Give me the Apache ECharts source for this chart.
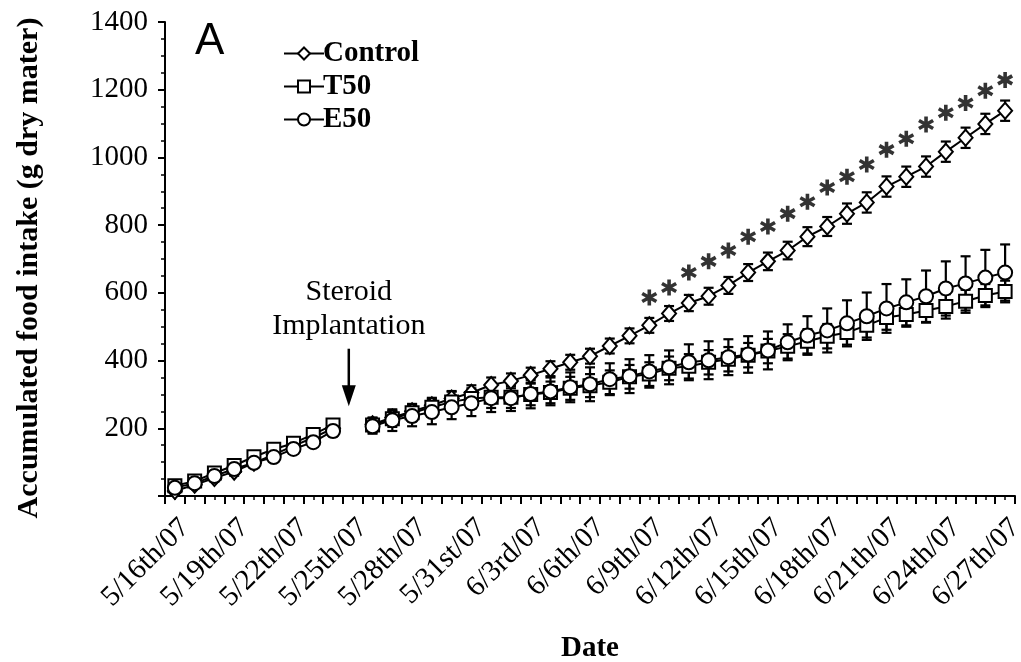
<!DOCTYPE html>
<html>
<head>
<meta charset="utf-8">
<script src="https://cdn.jsdelivr.net/npm/echarts@6/dist/echarts.min.js"></script>
<style>
html,body{margin:0;padding:0;background:#fff;}
#chart{width:1021px;height:662px;}
</style>
</head>
<body>
<div id="chart"></div>
<script>
// ---- data ----
const categories = [
 '5/16th/07','5/17th/07','5/18th/07','5/19th/07','5/20th/07','5/21th/07','5/22th/07','5/23th/07','5/24th/07','5/25th/07',
 '5/26th/07','5/27th/07','5/28th/07','5/29th/07','5/30th/07','5/31st/07','6/1st/07','6/2nd/07','6/3rd/07','6/4th/07',
 '6/5th/07','6/6th/07','6/7th/07','6/8th/07','6/9th/07','6/10th/07','6/11th/07','6/12th/07','6/13th/07','6/14th/07',
 '6/15th/07','6/16th/07','6/17th/07','6/18th/07','6/19th/07','6/20th/07','6/21th/07','6/22th/07','6/23th/07','6/24th/07',
 '6/25th/07','6/26th/07','6/27th/07'
];
const controlMean = [15,33,53,72,98,122,148,172,200,null,
 212,232,250,268,288,305,328,340,357,376,395,413,
 443,473,504,539,570,590,622,660,693,725,766,796,834,867,914,943,973,1017,1058,1099,1138];
const controlErr = [10,10,10,12,12,12,12,14,14,null,
 18,18,20,20,22,22,22,22,22,22,22,22,
 22,22,22,22,24,25,25,25,26,26,28,28,30,30,30,30,30,30,30,30,30];
const t50Mean = [30,44,68,90,116,138,156,182,210,null,
 210,228,246,262,278,288,292,292,300,306,318,326,
 336,352,360,377,383,395,404,416,428,442,457,472,483,504,527,536,548,560,575,592,604];
const t50Err = [10,10,12,12,12,14,14,16,16,null,
 22,24,26,28,30,30,32,32,32,32,34,34,
 35,35,35,35,36,36,36,36,36,36,36,36,36,36,36,36,36,36,34,34,32];
const e50Mean = [24,38,59,80,98,115,139,159,192,null,
 206,224,236,248,262,274,289,289,301,309,321,330,
 345,354,368,380,395,401,410,418,430,454,474,489,510,531,554,572,590,613,628,645,660];
const e50Err = [10,10,10,12,12,12,14,14,16,null,
 22,32,30,36,35,38,41,38,42,41,44,50,
 47,50,48,50,53,56,53,54,56,53,57,65,68,70,72,68,76,80,80,82,83];
// significance asterisks (6/9 .. 6/27)
const starCats = ['6/9th/07','6/10th/07','6/11th/07','6/12th/07','6/13th/07','6/14th/07','6/15th/07','6/16th/07','6/17th/07','6/18th/07',
 '6/19th/07','6/20th/07','6/21th/07','6/22th/07','6/23th/07','6/24th/07','6/25th/07','6/26th/07','6/27th/07'];
const starY = [586,616,660,693,725,766,796,834,869,911,943,979,1023,1055,1097,1132,1161,1197,1229];
const yTicks = [0,200,400,600,800,1000,1200,1400];

// ---- chart ----
const SERIF = '"Liberation Serif","Times New Roman",serif';
const chart = echarts.init(document.getElementById('chart'));

function errData(mean, err){
  return mean.map((m,i)=> m==null ? [i,null,null] : [i, m-err[i], m+err[i]]);
}
function errSeries(mean, err, z){
  return {
    type:'custom', xAxisIndex:0, yAxisIndex:0, z:z, silent:true,
    data: errData(mean, err),
    renderItem: function(params, api){
      if (api.value(1) == null || isNaN(api.value(1))) return null;
      const lo = api.coord([api.value(0), api.value(1)]);
      const hi = api.coord([api.value(0), api.value(2)]);
      const w = 5;
      const st = {stroke:'#000', lineWidth:2.2};
      return {type:'group', children:[
        {type:'line', shape:{x1:lo[0],y1:lo[1],x2:hi[0],y2:hi[1]}, style:st},
        {type:'line', shape:{x1:lo[0]-w,y1:lo[1],x2:lo[0]+w,y2:lo[1]}, style:st},
        {type:'line', shape:{x1:hi[0]-w,y1:hi[1],x2:hi[0]+w,y2:hi[1]}, style:st}
      ]};
    }
  };
}
function lineSeries(name, data, symbol, size, z){
  return {
    name:name, type:'line', data:data, symbol:symbol, symbolSize:size,
    connectNulls:false, z:z, showAllSymbol:true,
    lineStyle:{color:'#000', width:2},
    itemStyle:{color:'#fff', borderColor:'#000', borderWidth:2},
    emphasis:{disabled:true}
  };
}
const starPath = 'path://M61 0L61 100L39 100L39 0Z M12.2 15.47L98.8 65.47L87.8 84.53L1.2 34.53Z M98.8 34.53L12.2 84.53L1.2 65.47L87.8 15.47Z';

const option = {
  animation:false,
  backgroundColor:'#fff',
  grid:{left:165, right:6, top:22, bottom:166, containLabel:false, outerBoundsMode:'none'},
  legend:{
    orient:'vertical', left:278, top:34, itemGap:4, itemWidth:40, itemHeight:15,
    data:['Control','T50','E50'],
    textStyle:{fontFamily:SERIF, fontWeight:'bold', fontSize:29, color:'#000', padding:[0,0,0,-6]},
    selectedMode:false
  },
  xAxis:[{
    type:'category', data:categories, boundaryGap:true,
    name:'Date', nameLocation:'middle', nameGap:138,
    nameTextStyle:{fontFamily:SERIF, fontWeight:'bold', fontSize:29, color:'#000'},
    axisLine:{lineStyle:{color:'#000', width:2}},
    axisTick:{show:true, interval:0, length:8, lineStyle:{color:'#000', width:2}},
    axisLabel:{interval:2, rotate:45, margin:17, verticalAlign:'top', fontFamily:SERIF, fontSize:29, color:'#000'},
    splitLine:{show:false}
  },{
    type:'category', data:categories, boundaryGap:true, position:'bottom',
    axisLine:{show:false},
    axisTick:{show:true, interval:0, alignWithLabel:true, length:4, lineStyle:{color:'#000', width:1.5}},
    axisLabel:{show:false}, splitLine:{show:false}
  }],
  yAxis:{
    type:'value', min:yTicks[0], max:yTicks[yTicks.length-1], interval:200,
    axisLine:{show:true, lineStyle:{color:'#000', width:2}},
    axisTick:{show:true, length:7, lineStyle:{color:'#000', width:2}},
    minorTick:{show:true, splitNumber:4, length:4, lineStyle:{color:'#000', width:1.5}},
    axisLabel:{margin:17, fontFamily:SERIF, fontSize:29, color:'#000',
      formatter:function(v){ return yTicks.indexOf(v)>0 ? String(v) : ''; }},
    splitLine:{show:false}
  },
  series:[
    errSeries(controlMean, controlErr, 2),
    errSeries(t50Mean, t50Err, 2),
    errSeries(e50Mean, e50Err, 2),
    lineSeries('Control', controlMean, 'diamond', [14,16], 5),
    lineSeries('T50', t50Mean, 'rect', 13, 6),
    lineSeries('E50', e50Mean, 'circle', 14, 7),
    {
      type:'scatter', data: starCats.map((c,i)=>[c, starY[i]]),
      symbol:starPath, symbolSize:16, z:8, silent:true,
      itemStyle:{color:'#000'}
    }
  ],
  graphic:[]
};
chart.setOption(option);

// annotation: "A", y-axis title, and steroid implantation arrow anchored at 5/25
const tipPx = chart.convertToPixel({xAxisIndex:0, yAxisIndex:0}, ['5/25th/07', 265]);
const topPx = chart.convertToPixel({xAxisIndex:0, yAxisIndex:0}, ['5/25th/07', 435]);
const ax = tipPx[0] - 4;
chart.setOption({graphic:[
  {type:'text', left:195, top:20, style:{text:'A', font:'44px "Liberation Sans", Arial, sans-serif', fill:'#000'}},
  {type:'text', x:29, y:268, rotation:Math.PI/2,
   style:{text:'Accumulated food intake (g dry mater)', font:'bold 30px '+SERIF, fill:'#000', align:'center', verticalAlign:'middle'}},
  {type:'text', x:ax, y:topPx[1]-57, style:{text:'Steroid', font:'30px '+SERIF, fill:'#000', align:'center', verticalAlign:'middle'}},
  {type:'text', x:ax, y:topPx[1]-23, style:{text:'Implantation', font:'30px '+SERIF, fill:'#000', align:'center', verticalAlign:'middle'}},
  {type:'line', shape:{x1:ax, y1:topPx[1], x2:ax, y2:tipPx[1]-16}, style:{stroke:'#000', lineWidth:2.5}},
  {type:'polygon', shape:{points:[[ax-7, tipPx[1]-21],[ax+7, tipPx[1]-21],[ax, tipPx[1]]]}, style:{fill:'#000'}}
]});
</script>
</body>
</html>
